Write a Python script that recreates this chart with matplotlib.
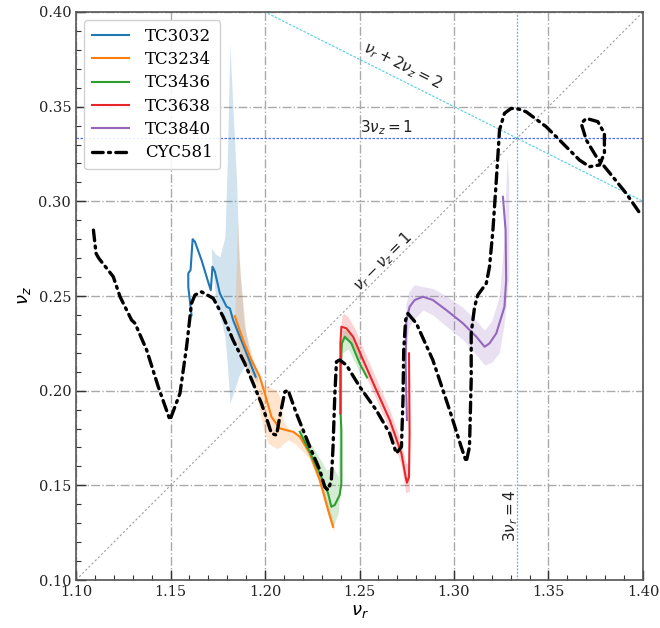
import matplotlib
matplotlib.use("Agg")
import matplotlib.pyplot as plt
import numpy as np

plt.rcParams['font.family'] = ['DejaVu Serif']
plt.rcParams['mathtext.fontset'] = 'dejavusans'

# ---------------- data ----------------
cyc_x = [1.1092, 1.1106, 1.1120, 1.1197, 1.1233, 1.1294, 1.1312, 1.1374, 1.1435, 1.1497,
         1.1550, 1.1585, 1.1611, 1.1629, 1.1664, 1.1726, 1.1779, 1.1831, 1.1893, 1.1937,
         1.1981, 1.2016, 1.2034, 1.2061, 1.2078, 1.2105, 1.2122, 1.2166, 1.2237, 1.2290,
         1.2316, 1.2334, 1.2351, 1.2360, 1.2369, 1.2378, 1.2395, 1.2431, 1.2501, 1.2589,
         1.2660, 1.2695, 1.2722, 1.2730, 1.2734, 1.2744, 1.2756, 1.2801, 1.2888, 1.2977,
         1.3038, 1.3065, 1.3082, 1.3091, 1.3091, 1.3109, 1.3126, 1.3171, 1.3188, 1.3206,
         1.3224, 1.3241, 1.3267, 1.3303, 1.3340, 1.3382, 1.3488, 1.3576, 1.3664, 1.3717,
         1.3770, 1.3796, 1.3796, 1.3761, 1.3700, 1.3673, 1.3700, 1.3753, 1.3840, 1.3911,
         1.3990]
cyc_y = [0.2848, 0.2725, 0.2700, 0.2602, 0.2496, 0.2373, 0.2356, 0.2214, 0.2021, 0.1845,
         0.1986, 0.2232, 0.2461, 0.2505, 0.2522, 0.2488, 0.2390, 0.2267, 0.2144, 0.2039,
         0.1933, 0.1830, 0.1774, 0.1765, 0.1862, 0.1994, 0.2003, 0.1880, 0.1704, 0.1581,
         0.1492, 0.1475, 0.1528, 0.1704, 0.1968, 0.2153, 0.2162, 0.2135, 0.2021, 0.1897,
         0.1774, 0.1669, 0.1704, 0.1950, 0.2214, 0.2373, 0.2408, 0.2355, 0.2162, 0.1897,
         0.1704, 0.1624, 0.1704, 0.2056, 0.2303, 0.2443, 0.2505, 0.2567, 0.2655, 0.2848,
         0.3112, 0.3377, 0.3465, 0.3491, 0.3488, 0.3473, 0.3394, 0.3306, 0.3218, 0.3183,
         0.3192, 0.3254, 0.3359, 0.3421, 0.3438, 0.3412, 0.3324, 0.3236, 0.3130, 0.3042,
         0.2928]

tc3032_x = [1.1611, 1.1594, 1.1594, 1.1606, 1.1617, 1.1629, 1.1664, 1.1699, 1.1713, 1.1722,
            1.1735, 1.1761, 1.1797, 1.1814, 1.1831, 1.1867, 1.1902, 1.1950]
tc3032_y = [0.2399, 0.2549, 0.2620, 0.2637, 0.2800, 0.2787, 0.2690, 0.2575, 0.2531, 0.2655,
            0.2628, 0.2514, 0.2443, 0.2435, 0.2373, 0.2285, 0.2197, 0.2074]
band3032_x = [1.1717, 1.1740, 1.1761, 1.1788, 1.1800, 1.1814, 1.1830, 1.1850, 1.1862, 1.1890, 1.1920, 1.1960]
band3032_lo = [0.2700, 0.2480, 0.2400, 0.2285, 0.2150, 0.1933, 0.1980, 0.2038, 0.2080, 0.2126, 0.2100, 0.2040]
band3032_hi = [0.2752, 0.2720, 0.2707, 0.2813, 0.3200, 0.3830, 0.3500, 0.3100, 0.2700, 0.2350, 0.2200, 0.2074]

tc3234_x = [1.1840, 1.1884, 1.1920, 1.1972, 1.1999, 1.2034, 1.2078, 1.2122, 1.2149, 1.2184,
            1.2237, 1.2290, 1.2334, 1.2360]
tc3234_y = [0.2394, 0.2267, 0.2179, 0.2074, 0.1986, 0.1862, 0.1801, 0.1789, 0.1783, 0.1757,
            0.1669, 0.1528, 0.1369, 0.1281]
band3234_x = [1.1840, 1.1855, 1.1870, 1.1900, 1.1950, 1.1990, 1.2016, 1.2061, 1.2078, 1.2096,
              1.2122, 1.2160, 1.2237, 1.2290, 1.2334, 1.2365]
band3234_lo = [0.2350, 0.2250, 0.2200, 0.2120, 0.2000, 0.1809, 0.1722, 0.1695, 0.1700, 0.1720,
               0.1740, 0.1720, 0.1640, 0.1500, 0.1340, 0.1250]
band3234_hi = [0.2400, 0.2900, 0.2600, 0.2300, 0.2120, 0.2030, 0.2021, 0.2003, 0.1968, 0.1845,
               0.1800, 0.1780, 0.1700, 0.1560, 0.1400, 0.1300]

tc3436_x = [1.2184, 1.2237, 1.2290, 1.2334, 1.2351, 1.2369, 1.2395, 1.2404, 1.2404, 1.2400,
            1.2400, 1.2407, 1.2422, 1.2457, 1.2501, 1.2540]
tc3436_y = [0.1783, 0.1677, 0.1563, 0.1457, 0.1387, 0.1396, 0.1449, 0.1510, 0.1792, 0.1881,
            0.2126, 0.2250, 0.2285, 0.2250, 0.2144, 0.2070]
band3436_x = [1.2184, 1.2263, 1.2325, 1.2360, 1.2387, 1.2400, 1.2410, 1.2440, 1.2500]
band3436_lo = [0.1760, 0.1580, 0.1405, 0.1281, 0.1350, 0.1500, 0.2200, 0.2220, 0.2100]
band3436_hi = [0.1800, 0.1690, 0.1581, 0.1600, 0.1545, 0.2150, 0.2320, 0.2320, 0.2190]

tc3638_x = [1.2399, 1.2399, 1.2404, 1.2431, 1.2466, 1.2519, 1.2589, 1.2660, 1.2722, 1.2744,
            1.2751, 1.2762, 1.2765, 1.2762]
tc3638_y = [0.1880, 0.2250, 0.2338, 0.2329, 0.2285, 0.2162, 0.2003, 0.1845, 0.1669, 0.1545,
            0.1514, 0.1545, 0.1774, 0.2197]
band3638_x = [1.2395, 1.2405, 1.2415, 1.2440, 1.2480, 1.2520, 1.2590, 1.2660, 1.2720, 1.2745, 1.2765]
band3638_lo = [0.2150, 0.2250, 0.2270, 0.2270, 0.2210, 0.2110, 0.1950, 0.1790, 0.1610, 0.1460, 0.1470]
band3638_hi = [0.2200, 0.2390, 0.2410, 0.2390, 0.2320, 0.2220, 0.2060, 0.1900, 0.1730, 0.1620, 0.1600]

tc3840_x = [1.2751, 1.2744, 1.2748, 1.2765, 1.2792, 1.2836, 1.2888, 1.2959, 1.3047, 1.3118,
            1.3162, 1.3188, 1.3224, 1.3267, 1.3276, 1.3273, 1.3259]
tc3840_y = [0.1845, 0.2144, 0.2373, 0.2443, 0.2479, 0.2496, 0.2479, 0.2426, 0.2356, 0.2285,
            0.2232, 0.2250, 0.2303, 0.2443, 0.2584, 0.2848, 0.3024]
band3840_x = [1.2745, 1.2760, 1.2790, 1.2836, 1.2888, 1.2959, 1.3047, 1.3118, 1.3162, 1.3200,
              1.3240, 1.3265, 1.3280, 1.3290]
band3840_lo = [0.2200, 0.2330, 0.2380, 0.2426, 0.2400, 0.2340, 0.2270, 0.2190, 0.2135, 0.2150,
               0.2200, 0.2350, 0.2500, 0.2600]
band3840_hi = [0.2450, 0.2520, 0.2560, 0.2549, 0.2540, 0.2500, 0.2440, 0.2370, 0.2320, 0.2370,
               0.2500, 0.2800, 0.3240, 0.3100]

series = [
    ("TC3032", tc3032_x, tc3032_y, band3032_x, band3032_lo, band3032_hi, "C0"),
    ("TC3234", tc3234_x, tc3234_y, band3234_x, band3234_lo, band3234_hi, "C1"),
    ("TC3436", tc3436_x, tc3436_y, band3436_x, band3436_lo, band3436_hi, "C2"),
    ("TC3638", tc3638_x, tc3638_y, band3638_x, band3638_lo, band3638_hi, "#e8262a"),
    ("TC3840", tc3840_x, tc3840_y, band3840_x, band3840_lo, band3840_hi, "#9467bd"),
]

xticks = [1.10, 1.15, 1.20, 1.25, 1.30, 1.35, 1.40]
yticks = [0.10, 0.15, 0.20, 0.25, 0.30, 0.35, 0.40]

# ---------------- figure ----------------
fig = plt.figure(figsize=(6.6, 6.28), dpi=100)
ax = fig.add_axes([0.1152, 0.0764, 0.8590, 0.9045])

# resonance lines
nr = np.array([1.10, 1.40])
ax.plot(nr, nr - 1.0, color='#a0a0a0', lw=0.8, ls=(0, (2, 2)), zorder=1)
ax.plot(nr, (2.0 - nr) / 2.0, color='#5fd3e0', lw=0.9, ls=(0, (2, 1.2)), zorder=1)
ax.axhline(1 / 3, color='#4f6fe8', lw=0.9, ls=(0, (2, 1.2)), zorder=1)
ax.axvline(4 / 3, color='#6aaee0', lw=0.9, ls=(0, (1.5, 1.2)), zorder=1)

for name, x, y, bx, blo, bhi, c in series:
    ax.fill_between(bx, blo, bhi, color=c, alpha=0.2, lw=0, zorder=2)
for name, x, y, bx, blo, bhi, c in series:
    ax.plot(x, y, color=c, lw=1.5, label=name, zorder=3)

ax.plot(cyc_x, cyc_y, color='black', lw=2.4, ls=(0, (3.2, 1.6, 0.6, 1.6)),
        dash_capstyle='round', label='CYC581', zorder=4)

ax.text(1.2725, 0.3715, r'$\nu_r + 2\nu_z = 2$', rotation=-26.5, ha='center', va='center',
        fontsize=11, color='#222222', rotation_mode='anchor')
ax.text(1.2500, 0.3340, r'$3\nu_z = 1$', ha='left', va='bottom', fontsize=11, color='#222222')
ax.text(1.2625, 0.2680, r'$\nu_r - \nu_z = 1$', rotation=45, ha='center', va='center',
        fontsize=11, color='#222222', rotation_mode='anchor')
ax.text(1.3300, 0.1340, r'$3\nu_r = 4$', rotation=90, ha='center', va='center',
        fontsize=11, color='#222222')

ax.set_xlim(1.10, 1.40)
ax.set_ylim(0.10, 0.40)
ax.set_xticks(xticks)
ax.set_yticks(yticks)
ax.set_xticklabels([f"{t:.2f}" for t in xticks])
ax.set_yticklabels([f"{t:.2f}" for t in yticks])
ax.xaxis.set_minor_locator(matplotlib.ticker.MultipleLocator(0.01))
ax.yaxis.set_minor_locator(matplotlib.ticker.MultipleLocator(0.01))
ax.tick_params(which='major', direction='in', length=7, width=1.0, labelsize=10.5, colors='#333333',
               labelcolor='#222222')
ax.tick_params(which='minor', direction='in', length=3.5, width=0.8, colors='#333333')
ax.grid(True, which='major', ls='-.', color='#aaaaaa', lw=1.0, zorder=0)
ax.set_axisbelow(True)
for s in ax.spines.values():
    s.set_color('#555555')
    s.set_linewidth(1.2)

ax.set_xlabel(r'$\nu_r$', fontsize=13, labelpad=2)
ax.set_ylabel(r'$\nu_z$', fontsize=13, labelpad=4)

leg = ax.legend(loc='upper left', fontsize=12, handlelength=2.2, labelspacing=0.38,
                borderpad=0.45, handletextpad=1.0, framealpha=0.9, edgecolor='#cccccc')

fig.savefig('out.png', dpi=100)
